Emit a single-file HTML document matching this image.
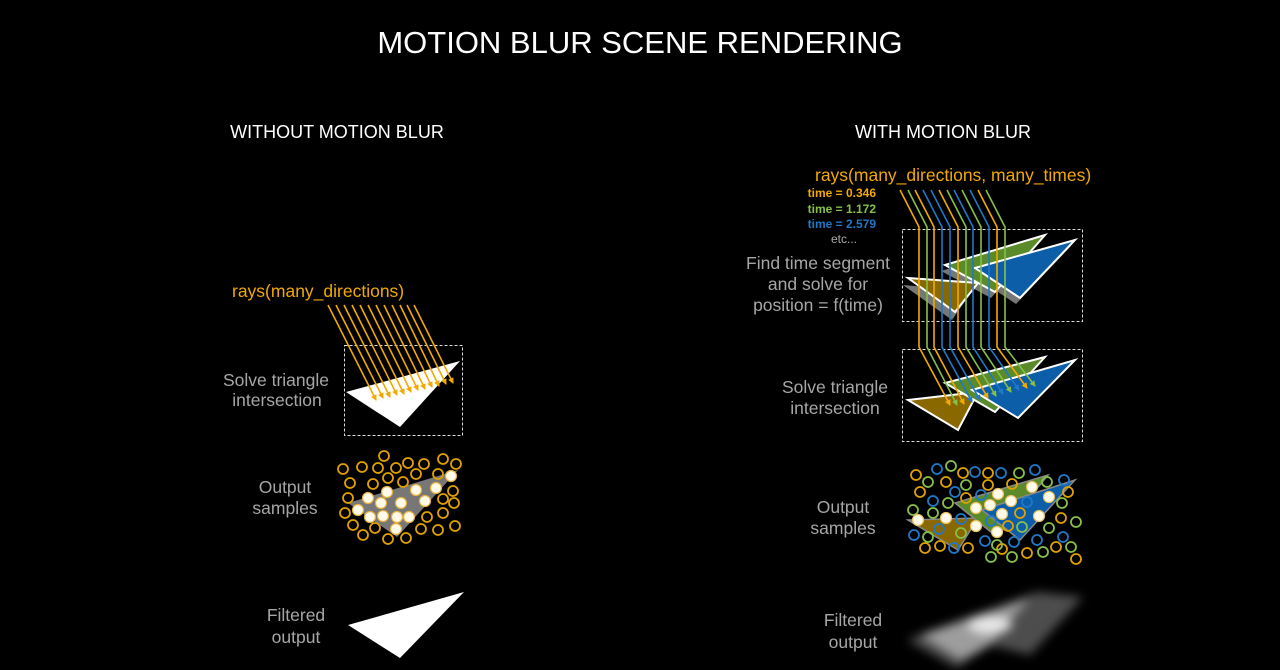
<!DOCTYPE html>
<html><head><meta charset="utf-8"><style>
html,body{margin:0;padding:0;background:#000;}
svg{display:block;font-family:"Liberation Sans",sans-serif;}
.l{fill:#a6a6a6;font-size:17.5px;text-anchor:middle;}
.h{fill:#fff;font-size:18px;text-anchor:middle;}
</style></head><body>
<svg width="1280" height="670" viewBox="0 0 1280 670" xmlns="http://www.w3.org/2000/svg">
<defs>
<marker id="ao" markerWidth="6" markerHeight="6" refX="5" refY="3" orient="auto" markerUnits="userSpaceOnUse"><path d="M0,0L6,3L0,6z" fill="#f2a900"/></marker>
<marker id="ag" markerWidth="6" markerHeight="6" refX="5" refY="3" orient="auto" markerUnits="userSpaceOnUse"><path d="M0,0L6,3L0,6z" fill="#86c048"/></marker>
<marker id="ab" markerWidth="6" markerHeight="6" refX="5" refY="3" orient="auto" markerUnits="userSpaceOnUse"><path d="M0,0L6,3L0,6z" fill="#1f78c8"/></marker>
<filter id="bl" x="-30%" y="-60%" width="160%" height="220%"><feGaussianBlur stdDeviation="5"/></filter>
</defs>
<text x="640" y="53" fill="#fff" font-size="31" text-anchor="middle">MOTION BLUR SCENE RENDERING</text>
<text x="337" y="138" class="h">WITHOUT MOTION BLUR</text>
<text x="943" y="138" class="h">WITH MOTION BLUR</text>

<!-- LEFT -->
<text x="232" y="297" fill="#f2a900" font-size="17.5">rays(many_directions)</text>
<rect x="344.5" y="345.5" width="118" height="90" fill="none" stroke="#ddd" stroke-width="1" stroke-dasharray="3,2"/>
<polygon points="346,392 460,361 400,427" fill="#fff"/>
<g stroke="#f2a900" stroke-width="1.6" marker-end="url(#ao)">
<line x1="328" y1="305" x2="376" y2="400"/>
<line x1="336" y1="305" x2="383" y2="398"/>
<line x1="344" y1="305" x2="390" y2="397"/>
<line x1="352" y1="305" x2="397" y2="395"/>
<line x1="360" y1="305" x2="404" y2="394"/>
<line x1="368" y1="305" x2="411" y2="392"/>
<line x1="376" y1="305" x2="418" y2="390"/>
<line x1="384" y1="305" x2="425" y2="389"/>
<line x1="392" y1="305" x2="432" y2="387"/>
<line x1="400" y1="305" x2="439" y2="386"/>
<line x1="407" y1="305" x2="446" y2="384"/>
<line x1="414" y1="305" x2="453" y2="383"/>
</g>
<text x="276" y="386" class="l">Solve triangle</text>
<text x="277" y="406" class="l">intersection</text>

<polygon points="348,503 458,470 397,537" fill="#777"/>
<g fill="none" stroke="#e0a000" stroke-width="1.8">
<circle cx="343" cy="469" r="5"/><circle cx="362" cy="467" r="5"/><circle cx="384" cy="456" r="5"/><circle cx="378" cy="468" r="5"/><circle cx="396" cy="468" r="5"/><circle cx="408" cy="463" r="5"/><circle cx="424" cy="464" r="5"/><circle cx="443" cy="459" r="5"/><circle cx="456" cy="464" r="5"/><circle cx="350" cy="483" r="5"/><circle cx="373" cy="484" r="5"/><circle cx="388" cy="478" r="5"/><circle cx="403" cy="482" r="5"/><circle cx="416" cy="474" r="5"/><circle cx="438" cy="474" r="5"/><circle cx="348" cy="498" r="5"/><circle cx="453" cy="491" r="5"/><circle cx="443" cy="499" r="5"/><circle cx="454" cy="503" r="5"/><circle cx="345" cy="513" r="5"/><circle cx="443" cy="513" r="5"/><circle cx="427" cy="517" r="5"/><circle cx="353" cy="525" r="5"/><circle cx="375" cy="528" r="5"/><circle cx="421" cy="529" r="5"/><circle cx="438" cy="530" r="5"/><circle cx="455" cy="526" r="5"/><circle cx="363" cy="535" r="5"/><circle cx="388" cy="539" r="5"/><circle cx="406" cy="538" r="5"/>
</g>
<g fill="#fffbe8" stroke="#e8b040" stroke-width="1.2">
<circle cx="451" cy="476" r="5.5"/><circle cx="436" cy="488" r="5.5"/><circle cx="416" cy="490" r="5.5"/><circle cx="387" cy="492" r="5.5"/><circle cx="368" cy="498" r="5.5"/><circle cx="425" cy="501" r="5.5"/><circle cx="381" cy="503" r="5.5"/><circle cx="401" cy="503" r="5.5"/><circle cx="358" cy="510" r="5.5"/><circle cx="370" cy="517" r="5.5"/><circle cx="383" cy="516" r="5.5"/><circle cx="397" cy="517" r="5.5"/><circle cx="409" cy="517" r="5.5"/><circle cx="396" cy="529" r="5.5"/>
</g>
<text x="285" y="493" class="l">Output</text>
<text x="285" y="514" class="l">samples</text>

<polygon points="348,625 464,592 400,658" fill="#fff"/>
<text x="296" y="621" class="l">Filtered</text>
<text x="296" y="643" class="l">output</text>

<!-- RIGHT -->
<text x="815" y="181" fill="#f2a900" font-size="17.5">rays(many_directions, many_times)</text>
<g font-size="12" text-anchor="end" font-weight="bold">
<text x="876" y="197" fill="#f2a900">time = 0.346</text>
<text x="876" y="213" fill="#86c048">time = 1.172</text>
<text x="876" y="228" fill="#1f78c8">time = 2.579</text>
<text x="857" y="243" fill="#aaa" font-weight="normal">etc...</text>
</g>
<rect x="902.5" y="229.5" width="180" height="92" fill="none" stroke="#ddd" stroke-dasharray="3,2"/>
<rect x="902.5" y="349.5" width="180" height="92" fill="none" stroke="#ddd" stroke-dasharray="3,2"/>

<g fill="#777">
<polygon points="903,285 972,291 952,320"/>
<polygon points="941,271 1041,241 991,298"/>
<polygon points="971,274 1071,246 1016,304"/>
</g>
<g stroke="#fff" stroke-width="2">
<polygon points="908,278 978,283 955,312" fill="#8a6800"/>
<polygon points="945,265 1045,235 995,292" fill="#5a8a2a"/>
<polygon points="975,268 1075,240 1020,298" fill="#0c5ea8"/>
</g>
<g stroke="#fff" stroke-width="2">
<polygon points="908,400 978,392 958,430" fill="#8a6800"/>
<polygon points="945,383 1045,357 995,412" fill="#5a8a2a"/>
<polygon points="972,390 1075,360 1018,418" fill="#0c5ea8"/>
</g>
<g fill="none" stroke-width="1.6">
<polyline stroke="#f2a900" marker-end="url(#ao)" points="900,190 919,227 919,347 950,405"/>
<polyline stroke="#86c048" marker-end="url(#ag)" points="908,190 927,227 927,347 957,405"/>
<polyline stroke="#f2a900" marker-end="url(#ao)" points="915,190 934,227 934,347 964,404"/>
<polyline stroke="#1f78c8" marker-end="url(#ab)" points="923,190 942,227 942,347 972,402"/>
<polyline stroke="#1f78c8" marker-end="url(#ab)" points="931,190 950,227 950,347 980,400"/>
<polyline stroke="#f2a900" marker-end="url(#ao)" points="939,190 958,227 958,347 988,398"/>
<polyline stroke="#86c048" marker-end="url(#ag)" points="947,190 966,227 966,347 996,396"/>
<polyline stroke="#1f78c8" marker-end="url(#ab)" points="954,190 973,227 973,347 1003,394"/>
<polyline stroke="#86c048" marker-end="url(#ag)" points="962,190 981,227 981,347 1011,392"/>
<polyline stroke="#1f78c8" marker-end="url(#ab)" points="970,190 989,227 989,347 1019,390"/>
<polyline stroke="#f2a900" marker-end="url(#ao)" points="978,190 997,227 997,347 1027,388"/>
<polyline stroke="#86c048" marker-end="url(#ag)" points="986,190 1005,227 1005,347 1035,386"/>
</g>
<text x="818" y="269" class="l">Find time segment</text>
<text x="818" y="290" class="l">and solve for</text>
<text x="818" y="311" class="l">position = f(time)</text>
<text x="835" y="393" class="l">Solve triangle</text>
<text x="835" y="414" class="l">intersection</text>

<g stroke="#888" stroke-width="1.5">
<polygon points="908,520 978,518 958,550" fill="#8a6800"/>
<polygon points="955,503 1048,475 997,537" fill="#5a8a2a"/>
<polygon points="982,510 1075,480 1020,540" fill="#0c5ea8"/>
</g>
<g fill="none" stroke-width="1.8">
<g stroke="#e0a000">
<circle cx="916" cy="475" r="5"/><circle cx="963" cy="473" r="5"/><circle cx="988" cy="473" r="5"/><circle cx="946" cy="482" r="5"/><circle cx="988" cy="485" r="5"/><circle cx="1012" cy="484" r="5"/><circle cx="920" cy="492" r="5"/><circle cx="966" cy="498" r="5"/><circle cx="1068" cy="492" r="5"/><circle cx="1020" cy="513" r="5"/><circle cx="1061" cy="518" r="5"/><circle cx="1008" cy="526" r="5"/><circle cx="925" cy="548" r="5"/><circle cx="940" cy="546" r="5"/><circle cx="968" cy="548" r="5"/><circle cx="1002" cy="549" r="5"/><circle cx="1027" cy="553" r="5"/><circle cx="1056" cy="547" r="5"/><circle cx="1076" cy="559" r="5"/>
</g>
<g stroke="#86c048">
<circle cx="951" cy="466" r="5"/><circle cx="1019" cy="473" r="5"/><circle cx="928" cy="482" r="5"/><circle cx="966" cy="485" r="5"/><circle cx="1047" cy="482" r="5"/><circle cx="948" cy="503" r="5"/><circle cx="1062" cy="503" r="5"/><circle cx="913" cy="510" r="5"/><circle cx="1076" cy="522" r="5"/><circle cx="933" cy="513" r="5"/><circle cx="1022" cy="527" r="5"/><circle cx="1049" cy="528" r="5"/><circle cx="961" cy="533" r="5"/><circle cx="928" cy="537" r="5"/><circle cx="997" cy="545" r="5"/><circle cx="1043" cy="552" r="5"/><circle cx="1071" cy="547" r="5"/><circle cx="991" cy="557" r="5"/><circle cx="1012" cy="557" r="5"/>
</g>
<g stroke="#1f78c8">
<circle cx="937" cy="469" r="5"/><circle cx="975" cy="472" r="5"/><circle cx="1001" cy="473" r="5"/><circle cx="1035" cy="470" r="5"/><circle cx="1064" cy="480" r="5"/><circle cx="955" cy="492" r="5"/><circle cx="981" cy="495" r="5"/><circle cx="933" cy="501" r="5"/><circle cx="1027" cy="502" r="5"/><circle cx="961" cy="519" r="5"/><circle cx="991" cy="521" r="5"/><circle cx="939" cy="529" r="5"/><circle cx="914" cy="535" r="5"/><circle cx="985" cy="541" r="5"/><circle cx="1014" cy="542" r="5"/><circle cx="1037" cy="540" r="5"/><circle cx="1063" cy="537" r="5"/><circle cx="954" cy="548" r="5"/>
</g>
</g>
<g fill="#fffbe8" stroke="#e8c060" stroke-width="1.2">
<circle cx="918" cy="520" r="5.5"/><circle cx="946" cy="518" r="5.5"/><circle cx="976" cy="526" r="5.5"/><circle cx="976" cy="508" r="5.5"/><circle cx="990" cy="505" r="5.5"/><circle cx="998" cy="494" r="5.5"/><circle cx="1011" cy="501" r="5.5"/><circle cx="1002" cy="514" r="5.5"/><circle cx="1032" cy="487" r="5.5"/><circle cx="1039" cy="516" r="5.5"/><circle cx="1049" cy="497" r="5.5"/><circle cx="997" cy="532" r="5.5"/>
</g>
<text x="843" y="513" class="l">Output</text>
<text x="843" y="534" class="l">samples</text>

<g filter="url(#bl)">
<polygon points="907,640 1037,592 1083,597 1030,655 990,645 957,668" fill="#fff" opacity="0.3"/>
<polygon points="920,635 1030,598 990,645 960,660" fill="#fff" opacity="0.45"/>
<ellipse cx="990" cy="625" rx="22" ry="9" fill="#fff" opacity="0.75"/>
</g>
<text x="853" y="626" class="l">Filtered</text>
<text x="853" y="648" class="l">output</text>
</svg>
</body></html>
